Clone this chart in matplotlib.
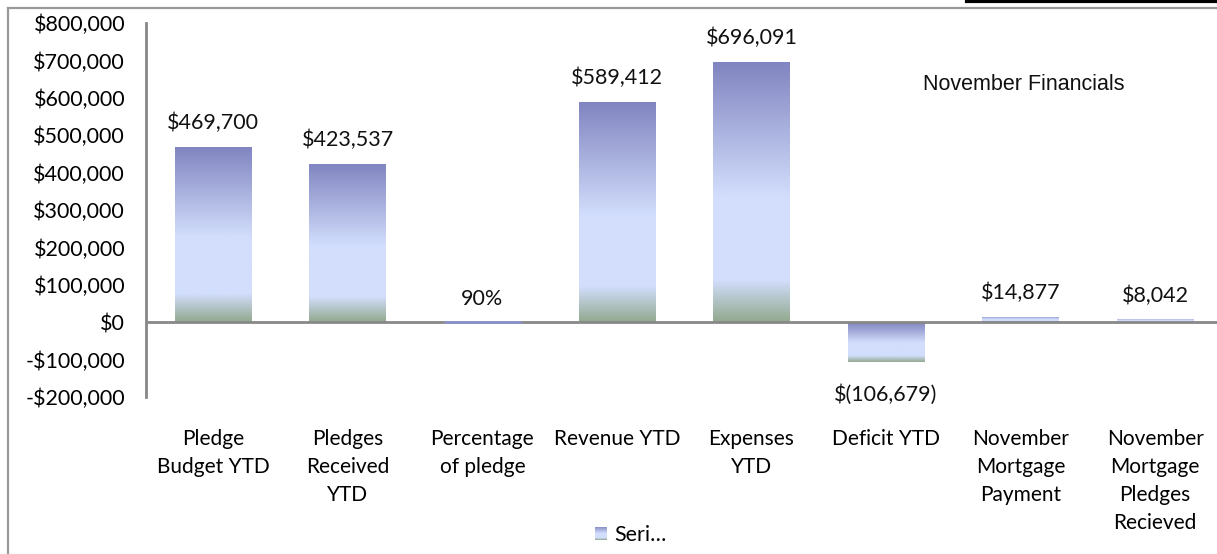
import numpy as np
import matplotlib.pyplot as plt
from matplotlib.colors import LinearSegmentedColormap
from matplotlib.lines import Line2D

categories = ["Pledge\nBudget YTD", "Pledges\nReceived\nYTD", "Percentage\nof pledge",
              "Revenue YTD", "Expenses\nYTD", "Deficit YTD",
              "November\nMortgage\nPayment", "November\nMortgage\nPledges\nRecieved"]
values = [469700, 423537, 0.90, 589412, 696091, -106679, 14877, 8042]
kinds = ["usd", "usd", "pct", "usd", "usd", "usd", "usd", "usd"]
yticks = [-200000, -100000, 0, 100000, 200000, 300000, 400000, 500000, 600000, 700000, 800000]


def fmt_label(v, kind):
    if kind == "pct":
        return f"{v:.0%}"
    if v < 0:
        return f"$({-v:,.0f})"
    return f"${v:,.0f}"


def fmt_tick(v):
    return f"-${-v:,.0f}" if v < 0 else f"${v:,.0f}"


def main():
    plt.rcParams["font.family"] = ["Lato", "DejaVu Sans"]
    W, H = 1217, 554
    fs = 15.5
    fig = plt.figure(figsize=(W / 100, H / 100), dpi=100)

    # bar gradient: purple top, pale blue middle, grey-green bottom
    cmap = LinearSegmentedColormap.from_list(
        "bar", [(0.0, "#8084c0"), (0.52, "#d2defc"), (0.84, "#d2defc"), (1.0, "#93a98f")])
    grad = np.linspace(0, 1, 256).reshape(-1, 1)

    ax = fig.add_axes([146 / W, (H - 397) / H, (W - 146) / W, 374 / H])
    ax.set_ylim(-200000, 800000)
    ax.set_xlim(-0.5, 7.46)

    x = np.arange(len(values))
    edges = ["#8d92cc" if abs(v) < 5000 else "none" for v in values]
    bars = ax.bar(x, values, width=0.57, color="none", edgecolor=edges, linewidth=2.0, zorder=3)
    for b in bars:
        x0, y0 = b.get_x(), b.get_y()
        x1, y1 = x0 + b.get_width(), y0 + b.get_height()
        lo, hi = min(y0, y1), max(y0, y1)
        if hi - lo < 1:
            continue
        im = ax.imshow(grad, cmap=cmap, aspect="auto", origin="upper",
                       extent=[x0, x1, lo, hi], zorder=1, interpolation="bilinear")
        im.set_clip_path(b)

    for xi, v, k in zip(x, values, kinds):
        off = 17 if v >= 0 else -23
        ax.annotate(fmt_label(v, k), (xi, v), xytext=(0, off), textcoords="offset points",
                    ha="center", va="center", fontsize=fs, color="#111111")

    ax.axhline(0, color="#888888", lw=2, zorder=2)
    for s in ["top", "right", "bottom"]:
        ax.spines[s].set_visible(False)
    ax.spines["left"].set_color("#888888")
    ax.spines["left"].set_linewidth(2)

    ax.set_yticks(yticks)
    ax.set_yticklabels([fmt_tick(t) for t in yticks], fontsize=fs)
    ax.tick_params(axis="y", length=0, pad=15)
    ax.set_xticks(x)
    ax.set_xticklabels(categories, fontsize=15, linespacing=1.5, va="top")
    ax.tick_params(axis="x", length=0, pad=23)

    ax.text(0.82, 0.835, "November Financials", transform=ax.transAxes,
            family="Liberation Sans", fontsize=15.5, ha="center", va="center", color="#111111")

    # legend swatch + text
    lax = fig.add_axes([595 / W, (H - 540) / H, 12 / W, 13 / H])
    lax.imshow(grad[:150], cmap=cmap, aspect="auto", origin="upper")
    lax.axis("off")
    fig.text(614 / W, (H - 535) / H, "Seri\u2026", fontsize=fs, va="center", ha="left")

    # outer chart frame and clipped box at top right
    fig.add_artist(Line2D([8 / W, 1], [1 - 8 / H, 1 - 8 / H], color="#999999", lw=1.6))
    fig.add_artist(Line2D([8 / W, 8 / W], [0, 1 - 8 / H], color="#999999", lw=1.6))
    fig.add_artist(Line2D([967 / W, 1], [1 - 1 / H, 1 - 1 / H], color="black", lw=3))

    fig.savefig("out.png", dpi=100)
    plt.close(fig)


if __name__ == "__main__":
    main()
